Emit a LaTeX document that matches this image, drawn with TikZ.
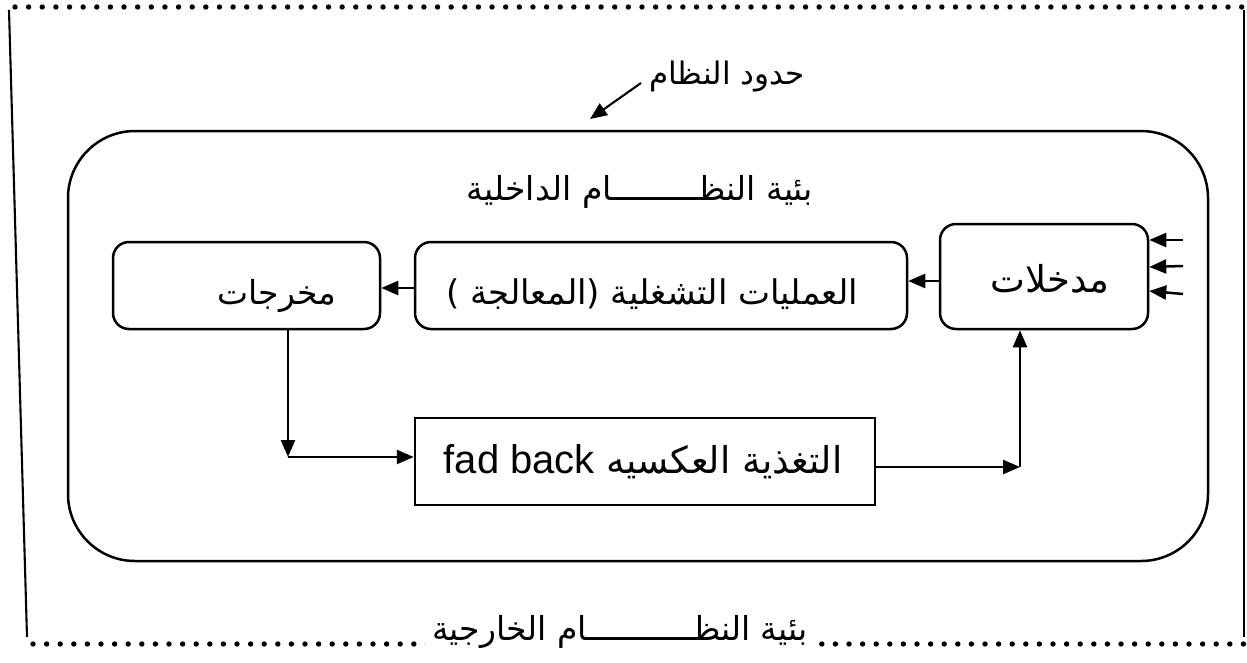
\documentclass[tikz,border=0pt]{standalone}
\usepackage{fontspec}
\setmainfont{Liberation Sans}
\newfontfamily\arabicfont[Script=Arabic]{DejaVu Sans}
\TeXXeTstate=1
\usetikzlibrary{arrows.meta}
\newcommand{\arsize}[1]{\arabicfont\fontsize{#1}{#1}\selectfont}
\begin{document}
\begin{tikzpicture}[x=1pt,y=-1pt,
  line width=2.5pt,
  arr/.style={-{Triangle[length=17pt,width=14pt]}},
  roundbox/.style={draw,rounded corners=16pt,inner sep=0pt},
  plainbox/.style={draw,inner sep=0pt},
  ar/.style={inner sep=0pt}]
\useasboundingbox (0,0) rectangle (1247,662);

% outer environment: dotted top and bottom, solid sides
\foreach \i in {0,...,90} \fill (15+\i*13.63,7) circle (2.7);
\foreach \i in {0,...,89} \fill (33+\i*13.6,644) circle (2.7);
\draw[line width=2.1pt] (9,10) -- (27,637);
\draw[line width=2.1pt] (1244,10) -- (1244,637);

% system boundary
\node[draw,rounded corners=67pt,minimum width=1140pt,minimum height=430pt,inner sep=0pt] (sys) at (638,346) {};

% labels
\node[ar,font=\arsize{31}] (bound) at (727,77) {\beginR حدود النظام\endR};
\coordinate (bs) at (641,83);
\coordinate (be) at (590,119);
\draw[arr,line width=2.1pt] (bs) -- (be);
\node[ar,font=\arsize{33}] (inner) at (640,192) {\beginR بئية النظـــــــــام الداخلية\endR};
\node[ar,font=\arsize{33},fill=white,inner xsep=7pt,inner ysep=4pt,anchor=base] (outer) at (620,640) {\beginR بئية النظـــــــــــام الخارجية\endR};

% main boxes
\node[roundbox,minimum width=267pt,minimum height=87pt] (out) at (246.5,285.5) {};
\node[ar,font=\arsize{33}] (outlbl) at (277,296) {\beginR مخرجات\endR};
\node[roundbox,minimum width=492pt,minimum height=87pt] (proc) at (661,285.5) {};
\node[ar,font=\arsize{34}] (proclbl) at (652,294) {\beginR العمليات التشغلية (المعالجة )\endR};
\node[roundbox,minimum width=208pt,minimum height=105pt] (in) at (1044,276.5) {};
\node[ar,font=\arsize{37}] (inlbl) at (1050,279) {\beginR مدخلات\endR};
\node[plainbox,minimum width=460pt,minimum height=87pt] (fb) at (645,461.5) {};
\node[ar,font=\arsize{37}] (fblbl) at (643,462) {\beginR التغذية العكسيه \beginL{\rmfamily\fontsize{40}{40}\selectfont fad back}\endL\endR};

% flow between boxes
\draw[arr] (proc.west |- 0,288) -- (out.east |- 0,288);
\draw[arr] (in.west |- 0,281) -- (proc.east |- 0,281);

% feedback loop
\coordinate (c1) at (288,457);
\coordinate (c2) at (1020,467);
\draw[arr] (out.south -| c1) -- (c1);
\draw[arr] (c1) -- (fb.west |- c1);
\draw[arr] (fb.east |- c2) -- (c2);
\draw[arr] (c2) -- (in.south -| c2);

% external inputs
\coordinate (t1) at (1183,240);
\coordinate (t2) at (1183,266);
\coordinate (t3) at (1183,294);
\draw[arr] (t1) -- (in.east |- 0,240);
\draw[arr] (t2) -- (in.east |- 0,267);
\draw[arr] (t3) -- (in.east |- 0,291);
\end{tikzpicture}
\end{document}
